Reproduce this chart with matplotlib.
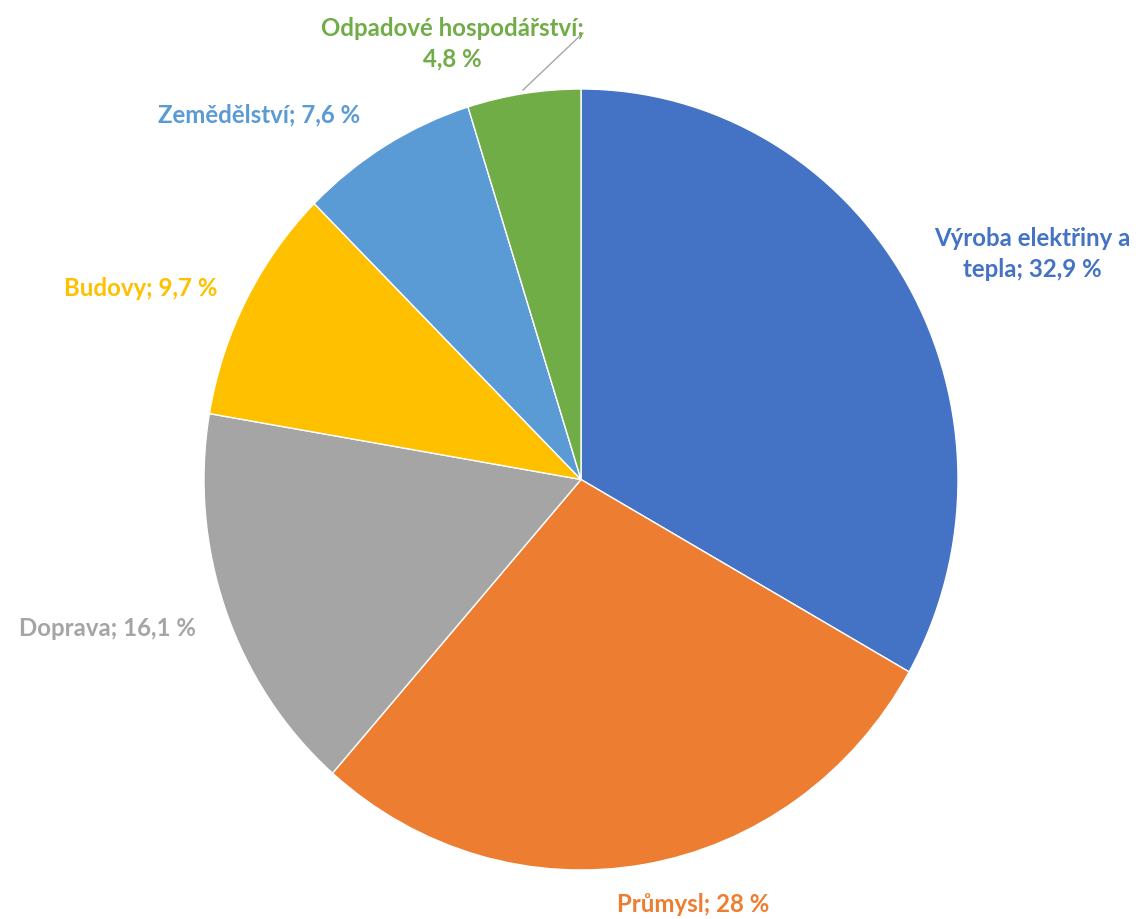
import matplotlib
matplotlib.use("Agg")
import matplotlib.pyplot as plt

# Data
categories = ["Výroba elektřiny a\ntepla", "Průmysl", "Doprava", "Budovy", "Zemědělství", "Odpadové hospodářství;\n"]
values = [32.9, 28.0, 16.1, 9.7, 7.6, 4.8]
value_labels = ["32,9 %", "28 %", "16,1 %", "9,7 %", "7,6 %", "4,8 %"]
colors = ["#4472C4", "#ED7D31", "#A5A5A5", "#FFC000", "#5B9BD5", "#70AD47"]

W, H = 1142, 919
fig = plt.figure(figsize=(W / 100, H / 100), dpi=100)
fig.patch.set_facecolor("white")

# pie area in pixels (left, top, right, bottom)
pl, pt, pr, pb = 204, 89, 958, 870
ax = fig.add_axes([pl / W, 1 - pb / H, (pr - pl) / W, (pb - pt) / H])
ax.pie(values, colors=colors, startangle=90, counterclock=False,
       wedgeprops=dict(edgecolor="white", linewidth=1.0))
ax.set_aspect("auto")
ax.set_xlim(-1, 1)
ax.set_ylim(-1, 1)
ax.axis("off")

# label layout (pixel centres)
label_pos = [(1032, 254), (693, 904), (107, 629), (141, 288), (259, 115), (452, 44)]
font = dict(family=["Lato", "DejaVu Sans"], fontweight="bold", fontsize=17.3)
for cat, val, col, (x, y) in zip(categories, value_labels, colors, label_pos):
    if cat.endswith("\n"):
        txt = cat + val
    else:
        txt = cat + "; " + val
    fig.text(x / W, 1 - y / H, txt, color=col, ha="center", va="center",
             multialignment="center", linespacing=1.38, **font)

# leader line for the small slice
fig.add_artist(plt.Line2D([523 / W, 583 / W], [1 - 90 / H, 1 - 33 / H],
                          color="#A6A6A6", linewidth=1.0))

fig.savefig("out.png", dpi=100, facecolor="white")
